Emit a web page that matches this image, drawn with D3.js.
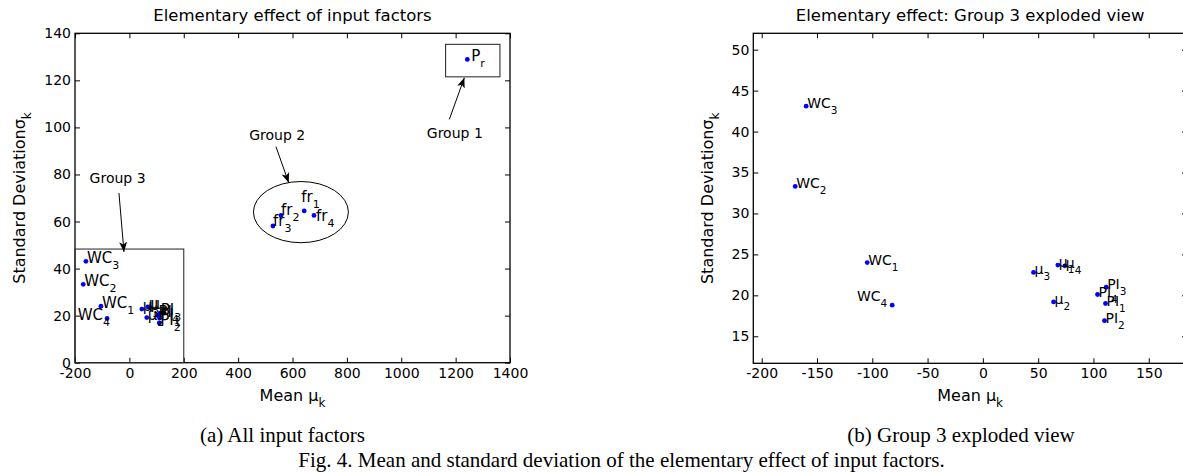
<!DOCTYPE html>
<html lang="en">
<head>
    <meta charset="UTF-8">
    <title>Elementary effect of input factors</title>
    <style>
        body {
            margin: 0;
            background: #fff;
        }
        svg {
            display: block;
        }
        .sans {
            font-family: 'DejaVu Sans', sans-serif;
        }
        .caption {
            font-family: 'Liberation Serif', 'Times New Roman', serif;
            font-size: 21px;
        }
    </style>
</head>
<body>
<script src="https://cdn.jsdelivr.net/npm/d3@7"></script>
<script>

    // input factors: label base + subscript, mean (mu_k) and standard deviation (sigma_k)
    var factorBase = ['WC', 'WC', 'WC', 'WC', 'μ', 'μ', 'μ', 'μ', 'PI', 'PI', 'PI', 'PI', 'fr', 'fr', 'fr', 'fr', 'P'];
    var factorSub = ['1', '2', '3', '4', '1', '2', '3', '4', '1', '2', '3', '4', '1', '2', '3', '4', 'r'];
    var meanMu = [-104.6, -169.7, -159.8, -82.0, 67.8, 63.9, 45.8, 74.1, 110.9, 110.0, 111.5, 103.7, 643, 558, 528, 679, 1243];
    var sdSigma = [24.0, 33.3, 43.1, 18.8, 23.7, 19.2, 22.8, 23.6, 19.0, 16.9, 21.0, 20.1, 64.5, 62.6, 58.1, 62.6, 128.9];
    var factorGroup = [3, 3, 3, 3, 3, 3, 3, 3, 3, 3, 3, 3, 2, 2, 2, 2, 1];

    var xTicksA = [-200, 0, 200, 400, 600, 800, 1000, 1200, 1400];
    var yTicksA = [0, 20, 40, 60, 80, 100, 120, 140];
    var xTicksB = [-200, -150, -100, -50, 0, 50, 100, 150];
    var yTicksB = [15, 20, 25, 30, 35, 40, 45, 50];

    // group annotations on panel (a), in data units
    var groupNames = ['Group 1', 'Group 2', 'Group 3'];
    var groupTextAt = [[1197, 95.6], [543.7, 94.6], [-43.4, 76.5]];
    var groupArrowFrom = [[1176.8, 103.4], [539.3, 91.8], [-38.3, 72.1]];
    var groupArrowTo = [[1232, 121.1], [586, 76.5], [-19.9, 47.1]];
    var groupBoxes = [[1163, 1363, 121.5, 135.3], [-200, 200, 0, 48.3]];
    var groupEllipse = [631, 64, 174.6, 13];

    var width = 1183,
        height = 472;

    var svg = d3.select('body').append('svg')
        .attr('width', width)
        .attr('height', height);

    svg.append('defs').append('marker')
        .attr('id', 'arrow')
        .attr('viewBox', '0 -5 11 10')
        .attr('refX', 10)
        .attr('refY', 0)
        .attr('markerWidth', 11)
        .attr('markerHeight', 10)
        .attr('markerUnits', 'userSpaceOnUse')
        .attr('orient', 'auto')
        .append('path')
        .attr('d', 'M0,-4L10,0L0,4L2.5,0Z')
        .attr('fill', '#000');

    var panelA = {
        x: d3.scaleLinear().domain([-200, 1400]).range([75, 510]),
        y: d3.scaleLinear().domain([0, 140]).range([362.7, 33.3]),
        xTicks: xTicksA,
        yTicks: yTicksA,
        title: 'Elementary effect of input factors',
        caption: '(a) All input factors',
        captionX: 282.5,
        yLabelX: 25,
        labelSize: 15,
        subSize: 11,
        points: d3.range(meanMu.length),
        tweaks: {
            3: {anchor: 'end', dx: 3, dy: 2},
            12: {dx: -3, dy: -9},
            13: {dx: 0, dy: 0},
            14: {dx: 0, dy: 0},
            15: {dx: 2, dy: 6},
            16: {dx: 4, dy: 2}
        }
    };

    var panelB = {
        x: d3.scaleLinear().domain([-207.6, 184.6]).range([753.3, 1187]),
        y: d3.scaleLinear().domain([11.7, 52]).range([363.3, 33.3]),
        xTicks: xTicksB,
        yTicks: yTicksB,
        title: 'Elementary effect: Group 3 exploded view',
        caption: '(b) Group 3 exploded view',
        captionX: 961,
        yLabelX: 713,
        labelSize: 14,
        subSize: 10.5,
        points: d3.range(meanMu.length).filter(i => factorGroup[i] === 3),
        tweaks: {
            3: {anchor: 'end', dx: -5, dy: -4}
        }
    };

    drawPanel(panelA);
    drawPanel(panelB);
    drawGroups(panelA);

    svg.append('text')
        .attr('class', 'caption')
        .attr('x', 621.5)
        .attr('y', 467)
        .attr('text-anchor', 'middle')
        .text('Fig. 4. Mean and standard deviation of the elementary effect of input factors.');

    function drawPanel(p) {
        var x0 = p.x.range()[0], x1 = p.x.range()[1];
        var y0 = p.y.range()[1], y1 = p.y.range()[0];
        var g = svg.append('g');
        var fmt = d => String(d);

        var bottom = g.append('g')
            .attr('transform', 'translate(0,' + y1 + ')')
            .call(d3.axisBottom(p.x).tickValues(p.xTicks).tickSize(-5).tickSizeOuter(0).tickPadding(5).tickFormat(fmt));
        var left = g.append('g')
            .attr('transform', 'translate(' + x0 + ',0)')
            .call(d3.axisLeft(p.y).tickValues(p.yTicks).tickSize(-5).tickSizeOuter(0).tickPadding(4).tickFormat(fmt));
        g.append('g')
            .attr('transform', 'translate(0,' + y0 + ')')
            .call(d3.axisTop(p.x).tickValues(p.xTicks).tickSize(-5).tickSizeOuter(0).tickFormat(''));
        g.append('g')
            .attr('transform', 'translate(' + x1 + ',0)')
            .call(d3.axisRight(p.y).tickValues(p.yTicks).tickSize(-5).tickSizeOuter(0).tickFormat(''));

        g.selectAll('.domain').remove();
        g.selectAll('.tick line').attr('stroke', '#000');
        bottom.selectAll('text').attr('class', 'sans').attr('font-size', 14).attr('fill', '#000');
        left.selectAll('text').attr('class', 'sans').attr('font-size', 14).attr('fill', '#000');
        g.selectAll('g').attr('font-family', null).attr('font-size', null);

        g.append('rect')
            .attr('x', x0)
            .attr('y', y0)
            .attr('width', x1 - x0)
            .attr('height', y1 - y0)
            .attr('fill', 'none')
            .attr('stroke', '#000')
            .attr('stroke-width', 1.3);

        var cx = (x0 + x1) / 2, cy = (y0 + y1) / 2;

        g.append('text')
            .attr('class', 'sans')
            .attr('x', cx)
            .attr('y', 21)
            .attr('text-anchor', 'middle')
            .attr('font-size', 16.5)
            .text(p.title);

        var xl = g.append('text')
            .attr('class', 'sans')
            .attr('x', cx)
            .attr('y', 401)
            .attr('text-anchor', 'middle')
            .attr('font-size', 16);
        xl.append('tspan').text('Mean μ');
        xl.append('tspan').attr('font-size', 12).attr('dy', 6).text('k');

        var yl = g.append('text')
            .attr('class', 'sans')
            .attr('transform', 'translate(' + p.yLabelX + ',' + cy + ') rotate(-90)')
            .attr('text-anchor', 'middle')
            .attr('font-size', 16);
        yl.append('tspan').text('Standard Deviationσ');
        yl.append('tspan').attr('font-size', 12).attr('dy', 6).text('k');

        g.selectAll('.pt')
            .data(p.points)
            .enter()
            .append('circle')
            .attr('class', 'pt')
            .attr('cx', i => p.x(meanMu[i]))
            .attr('cy', i => p.y(sdSigma[i]))
            .attr('r', 2.4)
            .attr('fill', '#0000ff');

        var lab = g.selectAll('.lab')
            .data(p.points)
            .enter()
            .append('text')
            .attr('class', 'sans lab')
            .attr('font-size', p.labelSize)
            .attr('text-anchor', i => (p.tweaks[i] && p.tweaks[i].anchor) || 'start')
            .attr('x', i => p.x(meanMu[i]) + (p.tweaks[i] ? p.tweaks[i].dx : 1))
            .attr('y', i => p.y(sdSigma[i]) + (p.tweaks[i] ? p.tweaks[i].dy : 2));
        lab.append('tspan').text(i => factorBase[i]);
        lab.append('tspan')
            .attr('font-size', p.subSize)
            .attr('dy', 6)
            .text(i => factorSub[i]);

        svg.append('text')
            .attr('class', 'caption')
            .attr('x', p.captionX)
            .attr('y', 441.5)
            .attr('text-anchor', 'middle')
            .text(p.caption);
    }

    function drawGroups(p) {
        var g = svg.append('g');

        g.selectAll('.gbox')
            .data(groupBoxes)
            .enter()
            .append('rect')
            .attr('x', d => p.x(d[0]))
            .attr('y', d => p.y(d[3]))
            .attr('width', d => p.x(d[1]) - p.x(d[0]))
            .attr('height', d => p.y(d[2]) - p.y(d[3]))
            .attr('fill', 'none')
            .attr('stroke', '#333')
            .attr('stroke-width', 1.1);

        g.append('ellipse')
            .attr('cx', p.x(groupEllipse[0]))
            .attr('cy', p.y(groupEllipse[1]))
            .attr('rx', p.x(groupEllipse[2]) - p.x(0))
            .attr('ry', p.y(0) - p.y(groupEllipse[3]))
            .attr('fill', 'none')
            .attr('stroke', '#000')
            .attr('stroke-width', 1);

        g.selectAll('.garrow')
            .data(groupNames)
            .enter()
            .append('line')
            .attr('x1', (d, i) => p.x(groupArrowFrom[i][0]))
            .attr('y1', (d, i) => p.y(groupArrowFrom[i][1]))
            .attr('x2', (d, i) => p.x(groupArrowTo[i][0]))
            .attr('y2', (d, i) => p.y(groupArrowTo[i][1]))
            .attr('stroke', '#000')
            .attr('stroke-width', 1)
            .attr('marker-end', 'url(#arrow)');

        g.selectAll('.gtext')
            .data(groupNames)
            .enter()
            .append('text')
            .attr('class', 'sans')
            .attr('font-size', 14)
            .attr('text-anchor', 'middle')
            .attr('x', (d, i) => p.x(groupTextAt[i][0]))
            .attr('y', (d, i) => p.y(groupTextAt[i][1]))
            .text(d => d);
    }
</script>
</body>
</html>
